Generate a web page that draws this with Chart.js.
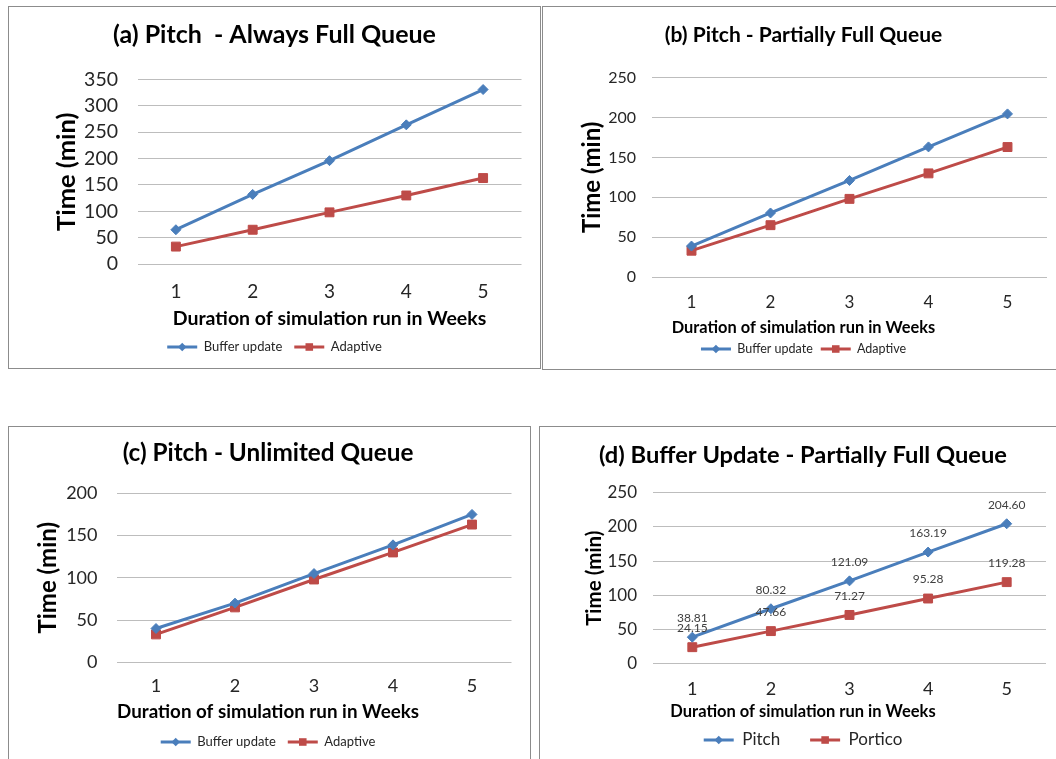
<!DOCTYPE html>
<html>
<head>
<meta charset="utf-8">
<title>Simulation run times</title>
<script src="https://cdn.jsdelivr.net/npm/chart.js@4/dist/chart.umd.min.js"></script>
<style>
  html, body { margin: 0; padding: 0; background: #ffffff; width: 1056px; height: 759px; overflow: hidden; }
  .panel { position: absolute; box-sizing: border-box; border: 1px solid #8c8c8c; background: #ffffff; }
  .panel canvas { position: absolute; left: 0; top: 0; }
</style>
</head>
<body>
<div class="panel" id="panel-a"><canvas id="chart-a"></canvas></div>
<div class="panel" id="panel-b"><canvas id="chart-b"></canvas></div>
<div class="panel" id="panel-c"><canvas id="chart-c"></canvas></div>
<div class="panel" id="panel-d"><canvas id="chart-d"></canvas></div>
<script>
// Simulation length in weeks (x categories)
const weeks = ['1', '2', '3', '4', '5'];

// (a) Pitch, always full queue
const fullBufferUpdate = [65, 132, 196, 264, 331];
const fullAdaptive = [33, 65, 98, 130, 163];

// (b) Pitch, partially full queue
const partialBufferUpdate = [38.81, 80.32, 121.09, 163.19, 204.60];
const partialAdaptive = [33, 65, 98, 130, 163];

// (c) Pitch, unlimited queue
const unlimitedBufferUpdate = [40, 70, 105, 139, 175];
const unlimitedAdaptive = [33, 65, 98, 130, 163];

// (d) Buffer update, partially full queue: Pitch vs Portico
const bufferPitch = [38.81, 80.32, 121.09, 163.19, 204.60];
const bufferPortico = [24.15, 47.66, 71.27, 95.28, 119.28];

// Axis maxima and tick step per chart
const yMaxA = 350, yMaxB = 250, yMaxC = 200, yMaxD = 250;
const yStep = 50;

const X_TITLE = 'Duration of simulation run in Weeks';
const Y_TITLE = 'Time (min)';

const BLUE = '#4a7ebb';
const RED = '#be4b48';
const FONT = 'Lato, "Open Sans", sans-serif';

function drawMarker(ctx, style, x, y, r, color) {
  ctx.save();
  ctx.fillStyle = color;
  ctx.beginPath();
  if (style === 'rectRot') {
    ctx.moveTo(x, y - r);
    ctx.lineTo(x + r, y);
    ctx.lineTo(x, y + r);
    ctx.lineTo(x - r, y);
    ctx.closePath();
  } else {
    const s = r * Math.SQRT1_2;
    ctx.rect(x - s, y - s, 2 * s, 2 * s);
  }
  ctx.fill();
  ctx.restore();
}

// Draws the series marker on top of each legend line swatch
const legendMarkers = {
  id: 'legendMarkers',
  afterDraw(chart) {
    const lg = chart.legend;
    if (!lg || !lg.legendHitBoxes) return;
    const bw = lg.options.labels.boxWidth;
    chart.data.datasets.forEach((ds, i) => {
      const hb = lg.legendHitBoxes[i];
      if (!hb) return;
      drawMarker(chart.ctx, ds.pointStyle, hb.left + bw / 2, hb.top + hb.height / 2,
                 ds.pointRadius * 0.85, ds.borderColor);
    });
  }
};

// Value labels above each point
const pointValueLabels = {
  id: 'pointValueLabels',
  afterDatasetsDraw(chart, args, opts) {
    if (!opts || !opts.display) return;
    const ctx = chart.ctx;
    ctx.save();
    ctx.font = opts.size + 'px ' + FONT;
    ctx.fillStyle = opts.color;
    ctx.textAlign = 'center';
    ctx.textBaseline = 'middle';
    chart.data.datasets.forEach((ds, i) => {
      const meta = chart.getDatasetMeta(i);
      meta.data.forEach((pt, j) => {
        ctx.fillText(Number(ds.data[j]).toFixed(2), pt.x, pt.y - opts.offset);
      });
    });
    ctx.restore();
  }
};

function series(label, data, color, style, radius) {
  return {
    label, data,
    borderColor: color, backgroundColor: color,
    borderWidth: 3, tension: 0,
    pointStyle: style, pointRadius: radius, pointHoverRadius: radius,
    pointBorderWidth: 1, pointBackgroundColor: color, pointBorderColor: color
  };
}

function buildChart(cfg) {
  const box = cfg.box;
  const panel = document.getElementById('panel-' + cfg.id);
  panel.style.left = box.x + 'px';
  panel.style.top = box.y + 'px';
  panel.style.width = (box.r - box.x + 1) + 'px';
  panel.style.height = (box.b - box.y + 1) + 'px';
  const ox = box.x + 1, oy = box.y + 1;
  const W = box.r - box.x - 1, H = box.b - box.y - 1;
  const canvas = document.getElementById('chart-' + cfg.id);
  canvas.width = W; canvas.height = H;
  canvas.style.width = W + 'px'; canvas.style.height = H + 'px';

  const cl = cfg.area.l - ox, ct = cfg.area.t - oy, cr = cfg.area.r - ox, cb = cfg.area.b - oy;

  // full-width span centred where title and legend sit
  const mid = cfg.center - ox;
  let Lp = 0, Rp = 0;
  if (mid <= W / 2) Rp = W - 2 * mid; else Lp = 2 * mid - W;
  const yWidth = cl - Lp;
  const y2Width = (W - Rp) - cr;

  // title block
  const tLH = cfg.titleSize * 1.2;
  const tPadTop = (cfg.titleY - oy) - tLH / 2;
  const tPadBottom = ct - (tPadTop + tLH);

  // legend block
  const lgS = cfg.legendSize, lgPad = cfg.legendPad;
  const Lb = H - 10 - lgS / 2 - (cfg.legendY - oy);
  const legendTop = (cfg.legendY - oy) - lgS / 2 - lgPad;

  // x tick labels
  const xTickPad = (cfg.xTickY - oy) - cb - cfg.xTickSize * 0.6;
  const xLabelsBottom = (cfg.xTickY - oy) + cfg.xTickSize * 0.6 + 1;

  // x title: either on the axis (centred on the plot) or as a
  // bottom subtitle (centred on the whole chart)
  const xtLH = cfg.xTitleSize * 1.2;
  const xTitleFont = { family: FONT, size: cfg.xTitleSize, weight: 'bold', lineHeight: 1.2 };
  let xHeight, xScaleTitle, subtitle;
  if (cfg.xTitleOnAxis) {
    xHeight = legendTop - cb;
    xScaleTitle = {
      display: true, text: X_TITLE, color: '#000000', font: xTitleFont,
      padding: { top: 0, bottom: legendTop - xtLH / 2 - (cfg.xTitleY - oy) }
    };
    subtitle = { display: false };
  } else {
    xHeight = xLabelsBottom - cb;
    const blockTop = cb + xHeight;
    const padTop = (cfg.xTitleY - oy) - blockTop - xtLH / 2;
    const padBottom = (legendTop - blockTop) - padTop - xtLH;
    xScaleTitle = { display: false };
    subtitle = {
      display: true, position: 'bottom', fullSize: true, weight: 500,
      text: X_TITLE, color: '#000000', font: xTitleFont,
      padding: { top: padTop, bottom: padBottom }
    };
  }

  // y scale
  const ytLH = cfg.yTitleSize * 1.2;
  const ytPadTop = (cfg.yTitleX - ox) - Lp - ytLH / 2;
  const yTickPad = cfg.area.l - cfg.yTickRight;

  const plugins = [legendMarkers];
  if (cfg.valueLabels) plugins.push(pointValueLabels);

  return new Chart(canvas, {
    type: 'line',
    data: { labels: weeks, datasets: cfg.datasets },
    plugins,
    options: {
      responsive: false,
      animation: false,
      devicePixelRatio: 1,
      layout: { padding: { left: Lp, right: Rp, top: 0, bottom: Lb } },
      plugins: {
        tooltip: { enabled: false },
        title: {
          display: true, text: cfg.title, color: '#000000',
          font: { family: FONT, size: cfg.titleSize, weight: 'bold', lineHeight: 1.2 },
          padding: { top: tPadTop, bottom: tPadBottom }
        },
        subtitle,
        legend: {
          display: true, position: 'bottom',
          labels: {
            color: '#262626', boxWidth: 30, boxHeight: 3, padding: lgPad,
            font: { family: FONT, size: lgS },
            generateLabels(chart) {
              const items = Chart.defaults.plugins.legend.labels.generateLabels(chart);
              items.forEach(it => { it.lineWidth = 0; it.fillStyle = it.strokeStyle; });
              return items;
            }
          }
        },
        pointValueLabels: cfg.valueLabels
          ? { display: true, size: 12, color: '#404040', offset: 19 }
          : { display: false }
      },
      scales: {
        x: {
          type: 'category', offset: true,
          grid: { display: false, drawTicks: false },
          border: { display: false },
          ticks: { color: '#262626', padding: xTickPad, autoSkip: false, maxRotation: 0,
                   font: { family: FONT, size: cfg.xTickSize } },
          title: xScaleTitle,
          afterFit(scale) { scale.height = xHeight; }
        },
        y: {
          type: 'linear', position: 'left', min: 0, max: cfg.yMax,
          grid: { color: '#bdbdbd', lineWidth: 1, drawTicks: false },
          border: { display: false },
          ticks: { stepSize: yStep, color: '#262626', padding: yTickPad, autoSkip: false,
                   font: { family: FONT, size: cfg.yTickSize, lineHeight: 1 } },
          title: {
            display: true, text: Y_TITLE, color: '#000000',
            font: { family: FONT, size: cfg.yTitleSize, weight: 'bold', lineHeight: 1.2 },
            padding: { top: ytPadTop, bottom: 0 }
          },
          afterFit(scale) { scale.width = yWidth; }
        },
        yRight: {
          type: 'linear', position: 'right', display: true,
          grid: { display: false, drawTicks: false },
          border: { display: false },
          ticks: { display: false },
          afterFit(scale) { scale.width = y2Width; }
        }
      }
    }
  });
}

buildChart({
  id: 'a', box: { x: 8, y: 6, r: 540, b: 368 },
  title: '(a) Pitch  - Always Full Queue', yMax: yMaxA,
  area: { l: 137.5, t: 79.5, r: 521.5, b: 264 }, center: 274.5,
  titleY: 35, titleSize: 25, yTitleX: 67, yTitleSize: 25.5, yTickRight: 118, yTickSize: 19.5,
  xTickY: 292, xTickSize: 19, xTitleY: 319, xTitleSize: 19.5, xTitleOnAxis: true,
  legendY: 347, legendSize: 13, legendPad: 12,
  datasets: [
    series('Buffer update', fullBufferUpdate, BLUE, 'rectRot', 5),
    series('Adaptive', fullAdaptive, RED, 'rect', 6.3)
  ]
});

buildChart({
  id: 'b', box: { x: 542, y: 6, r: 1058, b: 369 },
  title: '(b) Pitch - Partially Full Queue', yMax: yMaxB,
  area: { l: 652, t: 77.7, r: 1047, b: 277 }, center: 803.5,
  titleY: 35, titleSize: 21, yTitleX: 592, yTitleSize: 24, yTickRight: 636, yTickSize: 16,
  xTickY: 303, xTickSize: 17, xTitleY: 328, xTitleSize: 16.4,
  legendY: 349, legendSize: 12.5, legendPad: 8,
  datasets: [
    series('Buffer update', partialBufferUpdate, BLUE, 'rectRot', 5),
    series('Adaptive', partialAdaptive, RED, 'rect', 6.3)
  ]
});

buildChart({
  id: 'c', box: { x: 8, y: 426, r: 530, b: 762 },
  title: '(c) Pitch - Unlimited Queue', yMax: yMaxC,
  area: { l: 116.5, t: 493.3, r: 511.5, b: 662.3 }, center: 268,
  titleY: 453, titleSize: 24.3, yTitleX: 48, yTitleSize: 24, yTickRight: 97.5, yTickSize: 18,
  xTickY: 686, xTickSize: 18, xTitleY: 712, xTitleSize: 18.8,
  legendY: 742, legendSize: 13, legendPad: 12,
  datasets: [
    series('Buffer update', unlimitedBufferUpdate, BLUE, 'rectRot', 5),
    series('Adaptive', unlimitedAdaptive, RED, 'rect', 6.3)
  ]
});

buildChart({
  id: 'd', box: { x: 539, y: 426, r: 1058, b: 762 },
  title: '(d) Buffer Update - Partially Full Queue', yMax: yMaxD,
  area: { l: 653, t: 492.7, r: 1046, b: 663.7 }, center: 803,
  titleY: 455, titleSize: 23.7, yTitleX: 594, yTitleSize: 20.5, yTickRight: 637, yTickSize: 17,
  xTickY: 689, xTickSize: 18, xTitleY: 712, xTitleSize: 16.5,
  legendY: 740, legendSize: 17, legendPad: 30,
  valueLabels: true,
  datasets: [
    series('Pitch', bufferPitch, BLUE, 'rectRot', 5),
    series('Portico', bufferPortico, RED, 'rect', 6.3)
  ]
});
</script>
</body>
</html>
